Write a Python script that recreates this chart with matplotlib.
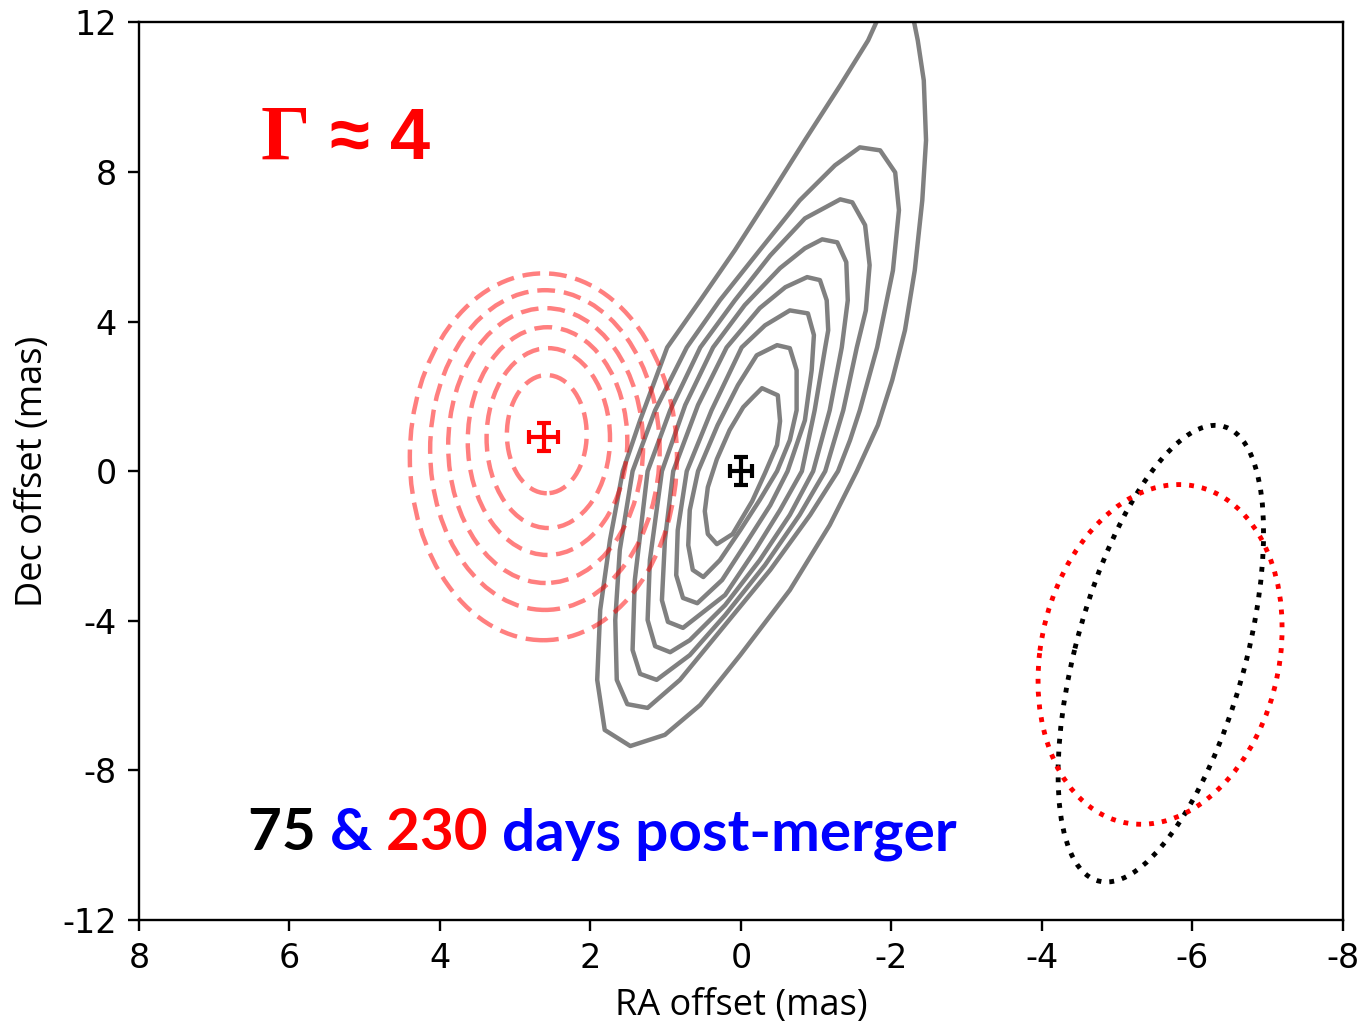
import numpy as np
import matplotlib
matplotlib.use("Agg")
import matplotlib.pyplot as plt
from matplotlib.patches import Ellipse, Polygon
from matplotlib.offsetbox import TextArea, HPacker, AnnotationBbox

plt.rcParams["axes.unicode_minus"] = False

# gray (75 d) contour outlines, innermost -> outermost (mas)
gray_x = [
    [-0.28, -0.49, -0.52, -0.48, -0.32, -0.15, 0.11, 0.32, 0.44, 0.48, 0.44, 0.32, 0.15, -0.03, -0.16],
    [-0.48, -0.65, -0.74, -0.74, -0.65, -0.48, -0.25, 0.01, 0.28, 0.50, 0.64, 0.70, 0.68, 0.57, 0.31, 0.04, -0.21],
    [-0.65, -0.89, -0.97, -0.94, -0.85, -0.62, -0.39, -0.05, 0.25, 0.58, 0.77, 0.86, 0.84, 0.72, 0.39, -0.01, -0.32],
    [-0.88, -1.05, -1.14, -1.16, -1.12, -0.98, -0.81, -0.52, -0.19, 0.21, 0.77, 0.97, 1.05, 1.01, 0.90, 0.57, 0.19, -0.25, -0.59],
    [-1.08, -1.28, -1.40, -1.42, -1.34, -1.18, -0.96, -0.65, -0.25, 0.21, 0.68, 0.94, 1.14, 1.24, 1.21, 1.05, 0.74, 0.37, -0.05,
     -0.52, -0.85],
    [-1.32, -1.48, -1.65, -1.71, -1.66, -1.54, -1.36, -1.12, -0.78, -0.32, 0.21, 0.68, 1.12, 1.34, 1.44, 1.41, 1.24, 0.94, 0.54,
     0.08, -0.39, -0.85],
    [-1.58, -1.85, -2.05, -2.10, -2.02, -1.81, -1.58, -1.45, -1.29, -0.92, -0.39, 0.21, 0.81, 1.24, 1.51, 1.65, 1.67, 1.61, 1.44,
     1.14, 0.72, 0.28, -0.25, -0.78, -1.25],
    [-1.87, -1.69, -1.32, -0.85, -0.39, 0.08, 0.54, 0.98, 1.34, 1.57, 1.74, 1.87, 1.91, 1.81, 1.47, 1.01, 0.54, 0.01, -0.65,
     -1.18, -1.54, -1.82, -2.01, -2.18, -2.31, -2.41, -2.46, -2.43, -2.35, -2.27],
]
gray_y = [
    [2.22, 2.03, 1.34, 0.70, -0.05, -0.80, -1.68, -1.95, -1.68, -1.07, -0.43, 0.32, 1.10, 1.71, 1.98],
    [3.37, 3.29, 2.70, 1.63, 0.83, 0.0, -0.77, -1.58, -2.38, -2.83, -2.64, -1.98, -1.04, 0.0, 1.23, 2.30, 3.10],
    [4.30, 4.22, 3.64, 2.70, 1.36, 0.0, -0.91, -1.98, -2.91, -3.53, -3.39, -2.78, -1.58, 0.0, 1.63, 3.31, 3.90],
    [5.19, 5.11, 4.57, 3.77, 3.31, 1.63, 0.0, -1.04, -2.11, -3.31, -4.19, -4.03, -3.45, -1.84, 0.0, 1.77, 3.31, 4.36, 4.92],
    [6.20, 6.12, 5.59, 4.57, 3.31, 1.63, 0.0, -1.17, -2.38, -3.58, -4.52, -4.84, -4.68, -3.98, -2.38, 0.0, 1.77, 3.31, 4.44,
     5.43, 5.96],
    [7.27, 7.19, 6.58, 5.51, 4.30, 3.31, 1.63, 0.0, -1.17, -2.51, -3.85, -4.92, -5.58, -5.42, -4.78, -2.91, 0.0, 1.63, 3.31,
     4.57, 5.77, 6.76],
    [8.66, 8.58, 7.99, 6.98, 5.37, 3.31, 1.63, 0.83, 0.0, -1.17, -2.64, -4.11, -5.58, -6.33, -6.23, -5.58, -3.98, -2.11, 0.0,
     1.63, 3.31, 4.57, 5.91, 7.24, 8.18],
    [12.32, 11.52, 10.32, 8.85, 7.38, 5.91, 4.57, 3.31, 1.36, 0.0, -1.84, -3.71, -5.58, -6.92, -7.35, -7.05, -6.25, -4.92, -3.18,
     -1.44, 0.0, 1.23, 2.43, 3.77, 5.37, 7.24, 8.85, 10.45, 11.52, 12.32],
]

# red (230 d) contours, innermost -> outermost: extents in RA and Dec
red_left = [3.11, 3.38, 3.63, 3.89, 4.13, 4.40]
red_right = [2.05, 1.74, 1.51, 1.30, 1.08, 0.85]
red_top = [2.57, 3.29, 3.85, 4.36, 4.84, 5.29]
red_bot = [-0.59, -1.52, -2.24, -2.99, -3.71, -4.52]

# fitted positions with errors
pos_x = [0.0, 2.62]
pos_y = [0.0, 0.91]
pos_xerr = [0.15, 0.19]
pos_yerr = [0.38, 0.38]
pos_col = ["black", "red"]

# restoring beams: centre x, centre y, major, minor, angle
beam_black = (-5.58, -4.88, 12.3, 2.3, 97)
beam_red = (-5.57, -4.90, 9.1, 3.2, 93.6)

fig = plt.figure(figsize=(13.62, 10.21), dpi=100)
ax = fig.add_axes([0.102, 0.099, 0.884, 0.879])

for xs, ys in zip(gray_x, gray_y):
    ax.add_patch(Polygon(np.column_stack([xs, ys]), closed=True, fill=False,
                         ec="gray", lw=3.2, joinstyle="round"))

for i in range(len(red_left)):
    cx = (red_left[i] + red_right[i]) / 2
    cy = (red_top[i] + red_bot[i]) / 2
    e = Ellipse((cx, cy), red_left[i] - red_right[i], red_top[i] - red_bot[i],
                fill=False, ec=(1, 0, 0, 0.5), lw=3.2, ls=(0, (4, 2)))
    ax.add_patch(e)

for b, c in [(beam_black, "black"), (beam_red, "red")]:
    ax.add_patch(Ellipse((b[0], b[1]), b[2], b[3], angle=b[4], fill=False, ec=c, lw=3.5, ls=":"))

for i in range(2):
    ax.errorbar(pos_x[i], pos_y[i], xerr=pos_xerr[i], yerr=pos_yerr[i], color=pos_col[i],
                elinewidth=3, capsize=5, capthick=3, zorder=5)

ax.set_xlim(8, -8)
ax.set_ylim(-12, 12)
ax.set_xticks([8, 6, 4, 2, 0, -2, -4, -6, -8])
ax.set_yticks([-12, -8, -4, 0, 4, 8, 12])
ax.tick_params(labelsize=24, length=8, width=1.7, pad=8)
for s in ax.spines.values():
    s.set_linewidth(1.7)
ax.set_xlabel("RA offset (mas)", fontsize=26, family="Open Sans", labelpad=9)
ax.set_ylabel("Dec offset (mas)", fontsize=26, family="Open Sans", labelpad=8)

# Gamma label
g1 = TextArea("Γ", textprops=dict(color="red", fontsize=56, family="Liberation Serif", weight="bold"))
g2 = TextArea(" ≈ 4", textprops=dict(color="red", fontsize=52, family="Liberation Sans", weight="bold"))
gbox = HPacker(children=[g1, g2], align="baseline", pad=0, sep=0)
ax.add_artist(AnnotationBbox(gbox, (5.26, 8.85), xycoords="data", frameon=False, box_alignment=(0.5, 0.5)))

parts = [("75 ", "black"), ("& ", "blue"), ("230 ", "red"), ("days post-merger", "blue")]
areas = [TextArea(t, textprops=dict(color=c, fontsize=42, family="Lato", weight="bold")) for t, c in parts]
tbox = HPacker(children=areas, align="baseline", pad=0, sep=0)
ax.add_artist(AnnotationBbox(tbox, (6.55, -9.7), xycoords="data", frameon=False, box_alignment=(0, 0.5)))

fig.savefig("out.png", dpi=100)
